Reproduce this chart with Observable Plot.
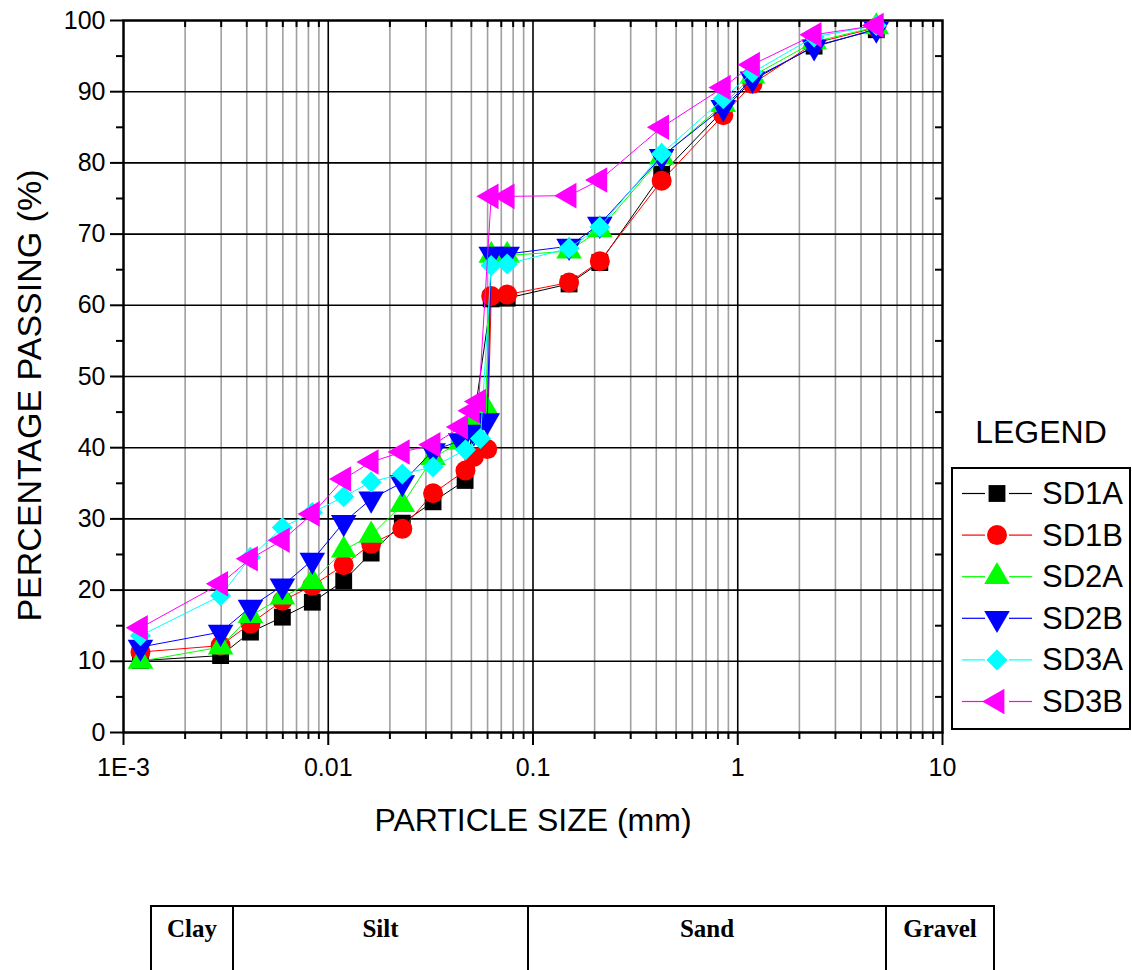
<!DOCTYPE html>
<html><head><meta charset="utf-8">
<script src="https://cdn.jsdelivr.net/npm/d3@7"></script>
<script src="https://cdn.jsdelivr.net/npm/@observablehq/plot@0.6"></script>
<style>
body{margin:0;background:#fff;}
#wrap{position:relative;width:1132px;height:970px;overflow:hidden;font-family:"Liberation Sans",Arial,sans-serif;background:#fff;}
#chart{position:absolute;left:0;top:0;}
table{position:absolute;left:150px;top:905px;border-collapse:collapse;table-layout:fixed;font-family:"Liberation Serif","Times New Roman",serif;font-weight:bold;font-size:25px;}
td{border:2px solid #000;vertical-align:top;text-align:center;padding:8px 0 0 0;height:90px;box-sizing:border-box;}
</style></head><body>
<div id="wrap"><div id="chart"></div>
<table id="zones"><tr></tr></table>
</div>
<script>
// ---- data ----
const seriesNames = ["SD1A","SD1B","SD2A","SD2B","SD3A","SD3B"];
const seriesColors = ["#000000","#ff0000","#00ff00","#0000ff","#00ffff","#ff00ff"];
const seriesSymbols = ["square","circle","triangle","triangle","diamond2","triangle"];
const seriesRotate = [0,0,0,180,0,-90];

const sd1aSize = [0.00121,0.00298,0.00417,0.00597,0.00836,0.0119,0.0162,0.0230,0.0325,0.0466,0.0625,0.0748,0.15,0.212,0.425,0.85,1.18,2.36,4.75];
const sd1aPass = [10.1,10.8,14.1,16.2,18.3,21.3,25.2,29.4,32.4,35.4,60.9,61.0,63.0,66.0,78.4,87.4,91.6,96.4,98.7];

const sd1bSize = [0.00121,0.00298,0.00417,0.00597,0.00836,0.0119,0.0162,0.0230,0.0325,0.0468,0.0514,0.0598,0.0625,0.0748,0.15,0.212,0.425,0.85,1.18,2.36,4.75];
const sd1bPass = [11.3,12.2,15.3,18.5,20.6,23.5,26.5,28.6,33.6,36.8,38.7,39.8,61.3,61.5,63.2,66.2,77.5,86.7,91.1,96.8,99.0];

const sd2aSize = [0.00121,0.00298,0.00417,0.00597,0.00836,0.0119,0.0162,0.0230,0.0325,0.0443,0.0505,0.0586,0.0625,0.0748,0.15,0.212,0.425,0.85,1.18,2.36,4.75];
const sd2aPass = [10.0,12.0,16.4,19.0,21.2,25.6,27.7,32.0,38.6,40.8,43.8,45.7,67.0,67.0,67.6,70.6,80.8,88.2,92.2,97.0,99.1];

const sd2bSize = [0.00121,0.00298,0.00417,0.00597,0.00836,0.0119,0.0162,0.0230,0.0325,0.0443,0.0514,0.0598,0.0625,0.0748,0.15,0.212,0.425,0.85,1.18,2.36,4.75];
const sd2bPass = [12.0,14.1,17.6,20.6,24.2,29.5,32.8,35.1,39.6,41.0,42.2,43.8,67.2,67.2,68.3,71.4,80.9,87.8,91.8,96.3,98.8];

const sd3aSize = [0.00121,0.00298,0.00417,0.00597,0.00836,0.0119,0.0162,0.0230,0.0325,0.0468,0.0554,0.0625,0.0748,0.15,0.212,0.425,0.85,1.18,2.36,4.75];
const sd3aPass = [13.6,19.2,24.6,28.8,30.9,33.1,35.2,36.3,37.3,39.7,41.3,65.6,65.8,68.0,71.0,81.3,89.0,92.7,97.7,99.3];

const sd3bSize = [0.00121,0.00298,0.00417,0.00597,0.00836,0.0119,0.0162,0.0230,0.0325,0.0443,0.0505,0.0543,0.0625,0.0748,0.15,0.212,0.425,0.85,1.18,2.36,4.75];
const sd3bPass = [14.7,20.9,24.4,27.0,30.7,35.6,38.0,39.4,40.4,42.9,45.2,46.5,75.3,75.3,75.4,77.6,85.0,90.6,93.8,98.0,99.3];

const xMajorTicks = [0.001,0.01,0.1,1,10];
const xTickLabels = ["1E-3","0.01","0.1","1","10"];
const yTicks = [0,10,20,30,40,50,60,70,80,90,100];
const yMinorTicks = [5,15,25,35,45,55,65,75,85,95];
const zoneNames = ["Clay","Silt","Sand","Gravel"];
const zoneWidths = [82,295,358,108];

// ---- build ----
const sizes = [sd1aSize,sd1bSize,sd2aSize,sd2bSize,sd3aSize,sd3bSize];
const passes = [sd1aPass,sd1bPass,sd2aPass,sd2bPass,sd3aPass,sd3bPass];
const series = seriesNames.map((name,i) => sizes[i].map((s,j) => ({name, size:s, pass:passes[i][j]})));
const xMinorTicks = [];
for (let e=-3;e<1;e++) for (let m=2;m<10;m++) xMinorTicks.push(+(m*Math.pow(10,e)).toPrecision(3));

const W = 1132, H = 860, ML = 123, MR = 190, MT = 20, MB = 128;
const PW = W-ML-MR, PH = H-MT-MB;

const seriesMarks = series.flatMap((data,i) => [
  Plot.line(data, {x:"size", y:"pass", stroke: seriesColors[i], strokeWidth: 1}),
  Plot.dot(data, {x:"size", y:"pass", symbol: seriesSymbols[i], fill: seriesColors[i], r: seriesSymbols[i]==="circle" ? 10 : 9.5, rotate: seriesRotate[i], stroke: "none"})
]);

const plot = Plot.plot({
  width: W, height: H,
  marginLeft: ML, marginRight: MR, marginTop: MT, marginBottom: MB,
  style: {fontFamily: '"Liberation Sans", Arial, sans-serif', fontSize: "25px", background: "white", overflow: "visible"},
  x: {type: "log", domain: [0.001, 10]},
  y: {domain: [0, 100]},
  marks: [
    Plot.ruleX(xMinorTicks, {stroke: "#a0a0a0", strokeWidth: 1.6}),
    Plot.ruleX(xMajorTicks.slice(1,-1), {stroke: "#000", strokeWidth: 1.6}),
    Plot.ruleY(yTicks.slice(1,-1), {stroke: "#000", strokeWidth: 1.6}),
    Plot.axisX({ticks: xMajorTicks, tickSize: 13, tickPadding: 13, strokeWidth: 2, fontSize: 25, label: null,
      tickFormat: d => xTickLabels[xMajorTicks.indexOf(d)]}),
    Plot.axisX({ticks: xMinorTicks, tickSize: 7, strokeWidth: 2, label: null, tickFormat: () => ""}),
    Plot.axisY({ticks: yTicks, tickSize: 13, tickPadding: 5, strokeWidth: 2, fontSize: 25, label: null, tickFormat: d => String(d)}),
    Plot.axisY({ticks: yMinorTicks, tickSize: 7, strokeWidth: 2, label: null, tickFormat: () => ""}),
    Plot.tickX(xMinorTicks, {insetBottom: PH - 7, strokeWidth: 2, stroke: "#000"}),
    Plot.tickY(yMinorTicks, {insetLeft: PW - 7, strokeWidth: 2, stroke: "#000"}),
    Plot.frame({stroke: "#000", strokeWidth: 2.5}),
    ...seriesMarks,
    Plot.text(["PARTICLE SIZE (mm)"], {frameAnchor: "bottom", textAnchor: "middle", lineAnchor: "middle", dy: 88, fontSize: 32, fill: "#000"}),
    Plot.text(["PERCENTAGE PASSING (%)"], {frameAnchor: "left", textAnchor: "middle", lineAnchor: "middle", rotate: -90, dx: -93, dy: 19, fontSize: 34, fill: "#000"})
  ]
});
document.getElementById("chart").appendChild(plot);

// ---- legend ----
const svg = d3.select(plot);
const lg = svg.append("g").attr("font-family", '"Liberation Sans", Arial, sans-serif');
lg.append("text").attr("x", 1041).attr("y", 432).attr("text-anchor","middle").attr("dominant-baseline","central")
  .attr("font-size", 32).attr("fill","#000").text("LEGEND");
lg.append("rect").attr("x", 952).attr("y", 468).attr("width", 178).attr("height", 261)
  .attr("fill","none").attr("stroke","#000").attr("stroke-width", 2);
const symMap = {square: d3.symbolSquare, circle: d3.symbolCircle, triangle: d3.symbolTriangle, diamond2: d3.symbolDiamond2};
seriesNames.forEach((name,i) => {
  const y = 493.5 + i*41.6;
  lg.append("line").attr("x1",962).attr("x2",985).attr("y1",y).attr("y2",y).attr("stroke",seriesColors[i]).attr("stroke-width",1.2);
  lg.append("line").attr("x1",1009).attr("x2",1032).attr("y1",y).attr("y2",y).attr("stroke",seriesColors[i]).attr("stroke-width",1.2);
  const r = seriesSymbols[i]==="circle" ? 10 : 9.5;
  lg.append("path").attr("d", d3.symbol(symMap[seriesSymbols[i]], Math.PI*r*r)())
    .attr("transform", `translate(997,${y}) rotate(${seriesRotate[i]})`).attr("fill", seriesColors[i]);
  lg.append("text").attr("x",1042).attr("y",y).attr("text-anchor","start").attr("dominant-baseline","central")
    .attr("font-size",31).attr("fill","#000").text(name);
});

// ---- soil zone table ----
const tr = d3.select("#zones tr");
zoneNames.forEach((z,i) => tr.append("td").style("width", zoneWidths[i]+"px").text(z));
</script>
</body></html>
